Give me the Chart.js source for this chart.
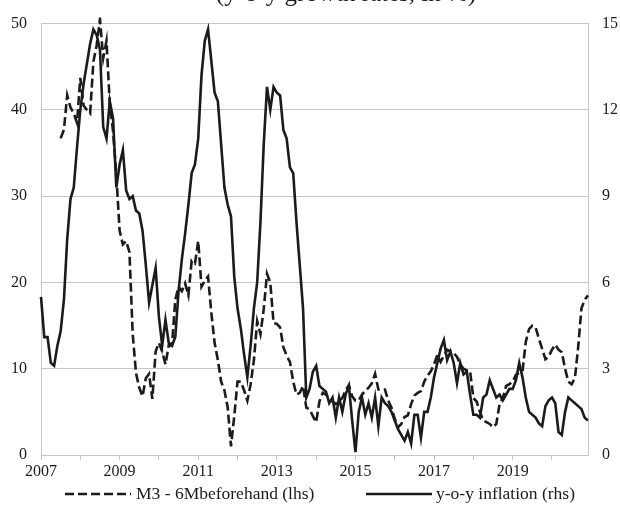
<!DOCTYPE html>
<html>
<head>
<meta charset="utf-8">
<script src="https://cdn.jsdelivr.net/npm/chart.js@4"></script>
<style>
  html, body { margin: 0; padding: 0; background: #fff; }
  #wrap { width: 620px; height: 506px; }
</style>
</head>
<body>
<div id="wrap"><canvas id="chart" width="620" height="506"></canvas></div>
<script>
/* data */
const months = [];
for (let y = 2007; y <= 2020; y++) {
  for (let m = 1; m <= 12; m++) months.push(y + "-" + String(m).padStart(2, "0"));
}
const yearLabels = ["2007", "2009", "2011", "2013", "2015", "2017", "2019"];
const leftTicks = [0, 10, 20, 30, 40, 50];
const rightTicks = [0, 3, 6, 9, 12, 15];

// M3 growth, shifted 6 months (lhs)
const m3 = [
  null, null, null, null, null, null, 36.7, 37.7, 41.7, 40.3, 39.6, 38.5,
  43.7, 40.5, 40, 39.6, 45.6, 47.5, 50.5, 46, 48, 40.7, 37.5, 32.4,
  26, 24.4, 24.8, 23.5, 14, 9.5, 7.8, 6.8, 8.9, 9.4, 6.5, 12,
  13, 12, 10.5, 12.7, 12.7, 18, 19.5, 19, 19.9, 18.5, 22.5, 22.2,
  24.8, 19.5, 20.2, 20.7, 16.5, 13, 11, 8.5, 7.5, 5.5, 1, 4.5,
  8.5, 8.5, 7.5, 6.3, 8.2, 11, 15.5, 14, 16.9, 21, 20, 15.3,
  15.2, 14.8, 12.5, 11.5, 10.8, 8.5, 7, 7.2, 8, 5.5, 5.3, 4.5,
  3.8, 6.2, 7.2, 7, 6.6, 6.2, 5.9, 6.3, 6.6, 7.5, 8.1, 6.8,
  6.3, 6.3, 7, 7.4, 7.8, 8.3, 9.4, 7.6, 7.6, 7.6, 6.3, 5.5,
  4.2, 3.2, 3.6, 4.4, 4.6, 5.9, 6.9, 7.2, 7.4, 8.5, 9.2, 9.7,
  10.5, 11.6, 10.8, 11.5, 12.2, 12, 11.8, 11.4, 10.5, 10, 9.8, 9.7,
  6.6, 6.2, 5, 4, 3.8, 3.6, 3.2, 3.6, 5.9, 6.6, 8, 8.2,
  8.5, 9.3, 9.5, 9.7, 13.1, 14.6, 15, 14.8, 13.5, 12.3, 11.1, 11.4,
  12.2, 12.8, 12.2, 11.9, 10, 8.5, 8.2, 8.9, 12.5, 17, 18, 18.5
];

// y-o-y inflation (rhs)
const inflation = [
  5.5, 4.1, 4.1, 3.2, 3.1, 3.8, 4.3, 5.4, 7.5, 8.9, 9.3, 10.7,
  12, 12.9, 13.6, 14.3, 14.8, 14.6, 14.1, 11.4, 11, 12.3, 11.7, 9.3,
  10.1, 10.6, 9.2, 8.9, 9, 8.5, 8.4, 7.8, 6.6, 5.3, 5.9, 6.5,
  4.8, 3.8, 4.7, 3.9, 3.8, 4.1, 5.7, 6.8, 7.7, 8.7, 9.8, 10.1,
  11, 13.2, 14.4, 14.8, 13.7, 12.6, 12.3, 10.8, 9.3, 8.7, 8.3, 6.2,
  5.1, 4.4, 3.5, 2.7, 3.8, 5.1, 6, 8.1, 10.8, 12.8, 12, 12.8,
  12.6, 12.5, 11.3, 11, 10, 9.8, 8.1, 6.6, 5.1, 2, 2.3, 2.9,
  3.1, 2.4, 2.3, 2.2, 1.8, 2, 1.3, 2, 1.5, 2.1, 2.4, 1.2,
  0.1, 1.5, 2, 1.4, 1.8, 1.3, 2, 1, 2, 1.8, 1.7, 1.5,
  1.2, 0.9, 0.7, 0.5, 0.8, 0.4, 1.4, 1.4, 0.6, 1.5, 1.5, 2,
  2.7, 3.2, 3.7, 4, 3.3, 3.6, 3.2, 2.5, 3.2, 2.8, 2.9, 2.1,
  1.4, 1.4, 1.3, 2, 2.1, 2.6, 2.3, 2, 2.1, 1.9, 2.1, 2.3,
  2.3, 2.6, 3.2, 2.7, 2, 1.5, 1.4, 1.3, 1.1, 1, 1.7, 1.9,
  2, 1.8, 0.8, 0.7, 1.5, 2, 1.9, 1.8, 1.7, 1.6, 1.3, 1.2
];

const titleText = "(y-o-y growth rates, in %)";
const legendM3 = "M3 - 6Mbeforehand (lhs)";
const legendInfl = "y-o-y inflation (rhs)";

const ink = "#1b1b1b";
const gridGrey = "#c6c6c6";
const fontFam = '"Liberation Serif", "DejaVu Serif", serif';

/* title cut at the top + legend at the bottom */
const extras = {
  id: "extras",
  afterDraw(chart) {
    const ctx = chart.ctx;
    ctx.save();
    ctx.fillStyle = ink;
    ctx.font = "25px " + fontFam;
    ctx.textAlign = "center";
    ctx.textBaseline = "alphabetic";
    ctx.fillText(titleText, 346, 1);

    ctx.font = "17.5px " + fontFam;
    ctx.textAlign = "left";
    ctx.textBaseline = "middle";
    const ly = 494;
    ctx.strokeStyle = ink;
    ctx.lineWidth = 2.6;
    ctx.setLineDash([9, 4]);
    ctx.beginPath();
    ctx.moveTo(65, ly);
    ctx.lineTo(131, ly);
    ctx.stroke();
    ctx.setLineDash([]);
    ctx.fillText(legendM3, 136, ly);
    ctx.beginPath();
    ctx.moveTo(366, ly);
    ctx.lineTo(432, ly);
    ctx.stroke();
    ctx.fillText(legendInfl, 436, ly);
    ctx.restore();
  },
};

new Chart(document.getElementById("chart"), {
  type: "line",
  data: {
    labels: months,
    datasets: [
      {
        label: legendM3,
        data: m3,
        yAxisID: "y",
        borderColor: ink,
        borderWidth: 2.6,
        borderDash: [9, 4],
        pointRadius: 0,
        tension: 0,
        clip: 6,
      },
      {
        label: legendInfl,
        data: inflation,
        yAxisID: "y2",
        borderColor: ink,
        borderWidth: 2.6,
        pointRadius: 0,
        tension: 0,
        clip: 6,
      },
    ],
  },
  options: {
    responsive: false,
    animation: false,
    layout: { padding: { top: 15, bottom: 25, left: 0, right: 0 } },
    plugins: {
      legend: { display: false },
      tooltip: { enabled: false },
    },
    scales: {
      x: {
        offset: false,
        grid: {
          drawOnChartArea: false,
          drawTicks: true,
          tickLength: 5,
          tickColor: (c) => (c.index % 12 === 0 ? gridGrey : "rgba(0,0,0,0)"),
        },
        border: { color: gridGrey, width: 1 },
        ticks: {
          autoSkip: false,
          maxRotation: 0,
          padding: 2,
          color: ink,
          font: { family: fontFam, size: 16 },
          callback: function (val, idx) {
            const parts = months[idx].split("-");
            return parts[1] === "01" && yearLabels.includes(parts[0]) ? parts[0] : "";
          },
        },
        afterFit: (s) => { s.height = 26; },
      },
      y: {
        position: "left",
        min: leftTicks[0],
        max: leftTicks[leftTicks.length - 1],
        grid: { color: gridGrey, lineWidth: 1, drawTicks: false },
        border: { color: gridGrey, width: 1 },
        ticks: {
          stepSize: 10,
          padding: 14,
          color: ink,
          font: { family: fontFam, size: 16 },
        },
        afterBuildTicks: (s) => { s.ticks = leftTicks.map((v) => ({ value: v })); },
        afterFit: (s) => { s.width = 41; },
      },
      y2: {
        position: "right",
        min: rightTicks[0],
        max: rightTicks[rightTicks.length - 1],
        grid: { drawOnChartArea: false, drawTicks: false },
        border: { color: gridGrey, width: 1 },
        ticks: {
          stepSize: 3,
          padding: 14,
          color: ink,
          font: { family: fontFam, size: 16 },
        },
        afterBuildTicks: (s) => { s.ticks = rightTicks.map((v) => ({ value: v })); },
        afterFit: (s) => { s.width = 32; },
      },
    },
  },
  plugins: [extras],
});
</script>
</body>
</html>
